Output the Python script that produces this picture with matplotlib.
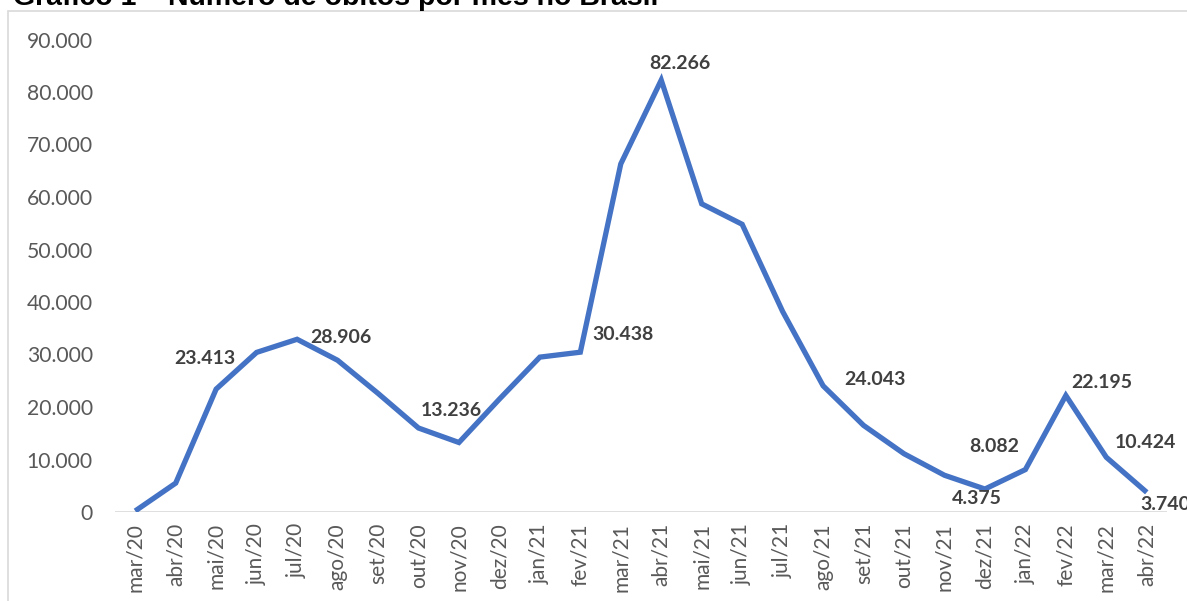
import matplotlib
matplotlib.use("Agg")
import matplotlib.pyplot as plt
from matplotlib.patches import Rectangle
from matplotlib.ticker import FuncFormatter

# Data: monthly deaths in Brazil
months = ["mar/20", "abr/20", "mai/20", "jun/20", "jul/20", "ago/20", "set/20",
          "out/20", "nov/20", "dez/20", "jan/21", "fev/21", "mar/21", "abr/21",
          "mai/21", "jun/21", "jul/21", "ago/21", "set/21", "out/21", "nov/21",
          "dez/21", "jan/22", "fev/22", "mar/22", "abr/22"]
deaths = [200, 5500, 23413, 30400, 32900, 28906, 22600,
          16000, 13236, 21500, 29500, 30438, 66300, 82266,
          58700, 54800, 38200, 24043, 16500, 11100, 7000,
          4375, 8082, 22195, 10424, 3740]

# months that carry a value label, with label offset in pixels (dx, dy)
labelled = ["mai/20", "ago/20", "nov/20", "fev/21", "abr/21", "ago/21",
            "dez/21", "jan/22", "fev/22", "mar/22", "abr/22"]
label_offsets = [(-11, 31), (3, 23), (-8, 32), (43, 18), (19, 17), (52, 6),
                 (-8, -9), (-31, 23), (36, 13), (39, 15), (19, -12)]

TITLE = "Gráfico 1 – Número de óbitos por mês no Brasil"

W, H = 1187, 601
LINE = "#4472C4"
TICK = "#595959"
LABEL = "#404040"
FONT = "Lato"

fig = plt.figure(figsize=(W / 100, H / 100), dpi=100)
fig.patch.set_facecolor("white")

# chart border (runs off the right and bottom edges like the clipped original)
fig.patches.append(Rectangle((8.3 / W, -0.2), 1.2, 1.2 - 10.7 / H,
                             transform=fig.transFigure, fill=False,
                             edgecolor="#D9D9D9", linewidth=1.2))

# title, mostly cut off at the top
fig.text(13 / W, 1 - 5 / H, TITLE, ha="left", va="baseline",
         fontsize=20.5, fontweight="bold", family="Liberation Sans",
         color="black")

ax = fig.add_axes([115 / W, 1 - 512 / H, (1167 - 115) / W, (512 - 39.5) / H])
x = list(range(len(months)))
ax.plot(x, deaths, color=LINE, linewidth=3.8, solid_joinstyle="miter",
        solid_capstyle="butt", zorder=3)

ax.set_xlim(-0.5, len(months) - 0.5)
ax.set_ylim(0, 90000)
ax.set_yticks(range(0, 90001, 10000))
ax.yaxis.set_major_formatter(FuncFormatter(lambda v, p: f"{int(v):,}".replace(",", ".")))
ax.set_xticks(x)
ax.set_xticklabels(months, rotation=90)

ax.axhline(0, color="#D9D9D9", linewidth=1.2, zorder=1)
for s in ax.spines.values():
    s.set_visible(False)
ax.tick_params(axis="y", length=0, pad=16, labelsize=15.2, labelcolor=TICK)
ax.tick_params(axis="x", length=0, pad=8, labelsize=15, labelcolor=TICK)
for t in ax.get_xticklabels() + ax.get_yticklabels():
    t.set_fontfamily(FONT)

for m, (dx, dy) in zip(labelled, label_offsets):
    i = months.index(m)
    v = deaths[i]
    ax.annotate(f"{v:,}".replace(",", "."), (i, v), xytext=(dx, dy),
                textcoords="offset pixels", ha="center", va="center",
                fontsize=14, fontweight="bold", color=LABEL, family=FONT,
                annotation_clip=False, zorder=4)

fig.savefig("out.png", dpi=100)
